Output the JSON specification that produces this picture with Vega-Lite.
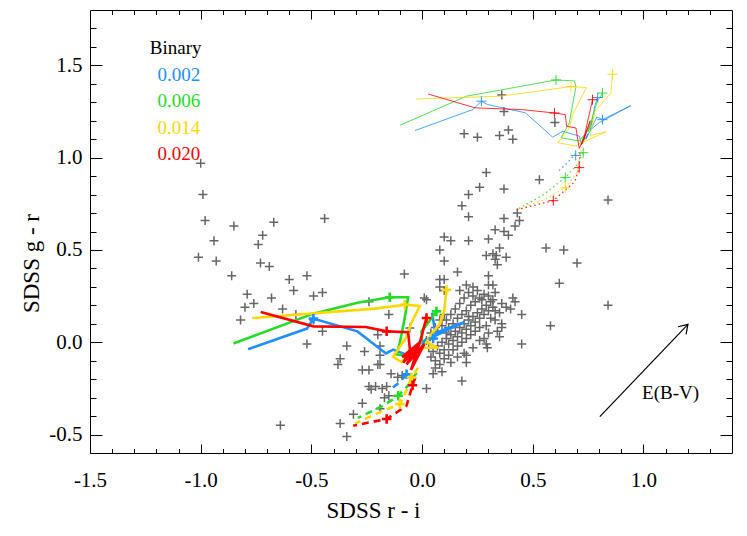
{
"$schema":"https://vega.github.io/schema/vega-lite/v6.json",
"width":642,"height":443,
"autosize":{"type":"none"},
"padding":{"left":90,"top":10,"right":15,"bottom":83},
"background":"#ffffff",
"config":{"view":{"stroke":"#000000","strokeWidth":1},"font":"Liberation Serif"},
"datasets":{
"grey":[
{"x":-1.00,"y":0.97},{"x":-0.99,"y":0.80},{"x":-0.98,"y":0.66},{"x":-0.94,"y":0.55},{"x":-1.01,"y":0.46},{"x":-0.93,"y":0.44},{"x":-0.85,"y":0.63},{"x":-0.72,"y":0.58},{"x":-0.74,"y":0.53},{"x":-0.67,"y":0.65},{"x":-0.73,"y":0.43},{"x":-0.69,"y":0.41},{"x":-0.44,"y":0.67},{"x":-0.86,"y":0.36},{"x":-0.60,"y":0.34},{"x":-0.52,"y":0.36},{"x":-0.79,"y":0.26},{"x":-0.58,"y":0.28},{"x":-0.49,"y":0.25},{"x":-0.45,"y":0.27},{"x":-0.68,"y":0.24},{"x":-0.80,"y":0.19},{"x":-0.76,"y":0.21},{"x":-0.63,"y":0.18},{"x":-0.82,"y":0.12},{"x":-0.57,"y":0.15},{"x":-0.49,"y":0.12},{"x":-0.45,"y":0.06},{"x":-0.24,"y":0.22},{"x":-0.20,"y":0.04},{"x":-0.15,"y":0.15},{"x":-0.08,"y":0.37},{"x":0.01,"y":0.24},{"x":-0.055,"y":0.077},{"x":-0.19,"y":-0.02},{"x":-0.19,"y":-0.12},
{"x":-0.52,"y":-0.01},{"x":-0.34,"y":-0.02},{"x":-0.26,"y":-0.05},{"x":-0.37,"y":-0.09},{"x":-0.38,"y":-0.12},{"x":-0.19,"y":-0.07},{"x":-0.27,"y":-0.15},{"x":-0.24,"y":-0.15},{"x":-0.20,"y":-0.12},{"x":-0.14,"y":-0.17},{"x":-0.11,"y":-0.19},{"x":-0.09,"y":-0.18},{"x":-0.24,"y":-0.24},{"x":-0.21,"y":-0.24},{"x":-0.23,"y":-0.255},{"x":-0.18,"y":-0.25},{"x":-0.16,"y":-0.24},{"x":-0.17,"y":-0.30},{"x":-0.15,"y":-0.29},{"x":-0.27,"y":-0.33},{"x":-0.31,"y":-0.39},{"x":-0.37,"y":-0.44},{"x":-0.34,"y":-0.51},{"x":-0.64,"y":-0.45},{"x":-0.19,"y":-0.36},
{"x":0.02,"y":-0.25},{"x":0.05,"y":-0.17},{"x":0.18,"y":-0.21},{"x":0.16,"y":-0.08},{"x":0.20,"y":-0.07},{"x":0.29,"y":-0.01},{"x":0.295,"y":-0.03},{"x":0.28,"y":0.02},{"x":0.35,"y":0.03},{"x":0.45,"y":-0.01},{"x":0.45,"y":0.15},{"x":0.40,"y":0.18},{"x":0.42,"y":0.22},{"x":0.41,"y":0.24},{"x":0.36,"y":0.10},{"x":0.36,"y":0.08},{"x":0.33,"y":0.17},{"x":0.32,"y":0.23},{"x":0.30,"y":0.25},{"x":0.30,"y":0.31},{"x":0.32,"y":0.31},{"x":0.33,"y":0.27},{"x":0.30,"y":0.36},{"x":0.16,"y":0.38},{"x":0.20,"y":0.31},{"x":0.08,"y":0.34},{"x":0.10,"y":0.34},{"x":0.08,"y":0.30},{"x":0.10,"y":0.28},{"x":0.08,"y":0.50},{"x":0.10,"y":0.57},{"x":0.13,"y":0.55},{"x":0.10,"y":0.44},{"x":0.21,"y":0.55},{"x":0.30,"y":0.56},{"x":0.33,"y":0.61},{"x":0.37,"y":0.60},{"x":0.39,"y":0.58},{"x":0.35,"y":0.51},{"x":0.32,"y":0.48},{"x":0.29,"y":0.47},{"x":0.335,"y":0.47},{"x":0.33,"y":0.45},{"x":0.38,"y":0.46},{"x":0.34,"y":0.42},{"x":0.37,"y":0.67},{"x":0.42,"y":0.63},{"x":0.44,"y":0.66},{"x":0.43,"y":0.70},{"x":0.18,"y":0.74},{"x":0.21,"y":0.68},{"x":0.21,"y":0.80},{"x":0.26,"y":0.84},{"x":0.37,"y":0.83},{"x":0.29,"y":0.92},{"x":0.53,"y":0.88},{"x":0.56,"y":0.51},{"x":0.64,"y":0.50},{"x":0.70,"y":0.43},{"x":0.62,"y":0.32},{"x":0.58,"y":0.09},{"x":0.84,"y":0.77},{"x":0.84,"y":0.20},{"x":0.19,"y":1.13},{"x":0.25,"y":1.11},{"x":0.35,"y":1.12},{"x":0.39,"y":1.15},{"x":0.41,"y":1.10},{"x":0.60,"y":1.19},{"x":0.36,"y":1.34},{"x":0.37,"y":1.25},{"x":0.02,"y":0.23},
{"x":0.04,"y":-0.08},{"x":0.05,"y":-0.05},{"x":0.06,"y":-0.10},{"x":0.07,"y":-0.02},{"x":0.08,"y":-0.06},{"x":0.09,"y":0.00},{"x":0.10,"y":-0.04},{"x":0.11,"y":0.02},{"x":0.12,"y":-0.01},{"x":0.13,"y":0.04},{"x":0.14,"y":0.01},{"x":0.15,"y":0.06},{"x":0.16,"y":0.03},{"x":0.17,"y":0.08},{"x":0.18,"y":0.05},{"x":0.19,"y":0.10},{"x":0.20,"y":0.07},{"x":0.21,"y":0.12},{"x":0.22,"y":0.09},{"x":0.23,"y":0.14},{"x":0.24,"y":0.11},{"x":0.25,"y":0.16},{"x":0.26,"y":0.13},{"x":0.27,"y":0.18},{"x":0.28,"y":0.15},{"x":0.29,"y":0.20},{"x":0.30,"y":0.17},{"x":0.31,"y":0.22},{"x":0.32,"y":0.19},
{"x":0.05,"y":0.02},{"x":0.07,"y":0.06},{"x":0.09,"y":0.09},{"x":0.11,"y":0.12},{"x":0.13,"y":0.15},{"x":0.15,"y":0.18},{"x":0.17,"y":0.21},{"x":0.19,"y":0.24},{"x":0.21,"y":0.27},{"x":0.23,"y":0.30},{"x":0.06,"y":-0.14},{"x":0.08,"y":-0.12},{"x":0.10,"y":-0.09},{"x":0.12,"y":-0.07},{"x":0.14,"y":-0.04},{"x":0.16,"y":-0.02},{"x":0.18,"y":0.00},{"x":0.20,"y":0.02},{"x":0.22,"y":0.04},{"x":0.24,"y":0.06},{"x":0.26,"y":0.08},
{"x":0.12,"y":0.08},{"x":0.14,"y":0.10},{"x":0.16,"y":0.13},{"x":0.18,"y":0.15},{"x":0.20,"y":0.17},{"x":0.22,"y":0.20},{"x":0.24,"y":0.22},{"x":0.26,"y":0.24},{"x":0.28,"y":0.26},{"x":0.17,"y":0.28},{"x":0.25,"y":0.28},{"x":0.27,"y":0.23},{"x":0.29,"y":0.09},{"x":0.33,"y":0.12},{"x":0.35,"y":0.16},{"x":0.36,"y":0.21},{"x":0.38,"y":0.19},{"x":0.10,"y":0.15},{"x":0.08,"y":0.12},{"x":0.06,"y":0.08},{"x":0.03,"y":-0.03},{"x":0.02,"y":0.01},{"x":0.13,"y":-0.11},{"x":0.09,"y":-0.16},{"x":0.19,"y":-0.06},{"x":0.20,"y":-0.11},{"x":0.23,"y":-0.03},{"x":0.26,"y":0.01},{"x":0.30,"y":0.05},{"x":0.31,"y":0.13},{"x":0.34,"y":0.06},{"x":0.04,"y":0.05},{"x":0.11,"y":0.05},{"x":0.21,"y":0.14},{"x":0.23,"y":0.25}
],
"tracks":[
{"model":"0.002","style":"thick","x":-0.786,"y":-0.038},{"model":"0.002","style":"thick","x":-0.52,"y":0.074},{"model":"0.002","style":"thick","x":-0.491,"y":0.128},{"model":"0.002","style":"thick","x":-0.47,"y":0.12},{"model":"0.002","style":"thick","x":-0.292,"y":0.059},{"model":"0.002","style":"thick","x":-0.163,"y":-0.061},{"model":"0.002","style":"thick","x":-0.131,"y":-0.04},{"model":"0.002","style":"thick","x":-0.065,"y":-0.07},{"model":"0.002","style":"thick","x":-0.04,"y":-0.03},{"model":"0.002","style":"thick","x":-0.06,"y":-0.09},{"model":"0.002","style":"thick","x":-0.01,"y":-0.04},{"model":"0.002","style":"thick","x":0.02,"y":0.02},{"model":"0.002","style":"thick","x":0.0,"y":-0.01},{"model":"0.002","style":"thick","x":0.05,"y":0.03},{"model":"0.002","style":"thick","x":0.192,"y":0.11},{"model":"0.002","style":"thick","x":0.06,"y":0.05},{"model":"0.002","style":"thick","x":0.045,"y":0.16},
{"model":"0.002","style":"dashed","x":-0.07,"y":-0.174},{"model":"0.002","style":"dashed","x":-0.1,"y":-0.215},{"model":"0.002","style":"dashed","x":-0.138,"y":-0.251},
{"model":"0.002","style":"thin","x":-0.032,"y":1.147},{"model":"0.002","style":"thin","x":0.23,"y":1.261},{"model":"0.002","style":"thin","x":0.268,"y":1.306},{"model":"0.002","style":"thin","x":0.296,"y":1.288},{"model":"0.002","style":"thin","x":0.467,"y":1.243},{"model":"0.002","style":"thin","x":0.59,"y":1.111},{"model":"0.002","style":"thin","x":0.635,"y":1.143},{"model":"0.002","style":"thin","x":0.71,"y":1.117},{"model":"0.002","style":"thin","x":0.72,"y":1.07},{"model":"0.002","style":"thin","x":0.75,"y":1.13},{"model":"0.002","style":"thin","x":0.74,"y":1.1},{"model":"0.002","style":"thin","x":0.79,"y":1.22},{"model":"0.002","style":"thin","x":0.815,"y":1.206},{"model":"0.002","style":"thin","x":0.943,"y":1.282},{"model":"0.002","style":"thin","x":0.8,"y":1.19},{"model":"0.002","style":"thin","x":0.76,"y":1.15},{"model":"0.002","style":"thin","x":0.78,"y":1.28},{"model":"0.002","style":"thin","x":0.793,"y":1.326},
{"model":"0.002","style":"dotted","x":0.694,"y":1.023},{"model":"0.002","style":"dotted","x":0.657,"y":0.973},{"model":"0.002","style":"dotted","x":0.617,"y":0.928},
{"model":"0.006","style":"thick","x":-0.852,"y":-0.007},{"model":"0.006","style":"thick","x":-0.491,"y":0.155},{"model":"0.006","style":"thick","x":-0.292,"y":0.214},{"model":"0.006","style":"thick","x":-0.146,"y":0.244},{"model":"0.006","style":"thick","x":-0.063,"y":0.244},{"model":"0.006","style":"thick","x":-0.08,"y":0.12},{"model":"0.006","style":"thick","x":-0.1,"y":0.0},{"model":"0.006","style":"thick","x":-0.115,"y":-0.066},{"model":"0.006","style":"thick","x":-0.055,"y":-0.075},{"model":"0.006","style":"thick","x":-0.02,"y":-0.03},{"model":"0.006","style":"thick","x":0.0,"y":0.02},{"model":"0.006","style":"thick","x":-0.003,"y":0.059},{"model":"0.006","style":"thick","x":0.03,"y":0.11},{"model":"0.006","style":"thick","x":0.065,"y":0.167},
{"model":"0.006","style":"dashed","x":-0.025,"y":-0.165},{"model":"0.006","style":"dashed","x":-0.06,"y":-0.23},{"model":"0.006","style":"dashed","x":-0.108,"y":-0.29},{"model":"0.006","style":"dashed","x":-0.176,"y":-0.344},{"model":"0.006","style":"dashed","x":-0.29,"y":-0.41},
{"model":"0.006","style":"thin","x":-0.099,"y":1.176},{"model":"0.006","style":"thin","x":0.201,"y":1.333},{"model":"0.006","style":"thin","x":0.605,"y":1.421},{"model":"0.006","style":"thin","x":0.688,"y":1.416},{"model":"0.006","style":"thin","x":0.695,"y":1.385},{"model":"0.006","style":"thin","x":0.665,"y":1.188},{"model":"0.006","style":"thin","x":0.628,"y":1.108},{"model":"0.006","style":"thin","x":0.71,"y":1.09},{"model":"0.006","style":"thin","x":0.73,"y":1.12},{"model":"0.006","style":"thin","x":0.72,"y":1.08},{"model":"0.006","style":"thin","x":0.77,"y":1.2},{"model":"0.006","style":"thin","x":0.75,"y":1.14},{"model":"0.006","style":"thin","x":0.79,"y":1.3},{"model":"0.006","style":"thin","x":0.815,"y":1.35},
{"model":"0.006","style":"dotted","x":0.728,"y":1.027},{"model":"0.006","style":"dotted","x":0.70,"y":0.96},{"model":"0.006","style":"dotted","x":0.647,"y":0.893},{"model":"0.006","style":"dotted","x":0.55,"y":0.80},{"model":"0.006","style":"dotted","x":0.425,"y":0.717},
{"model":"0.014","style":"thick","x":-0.767,"y":0.131},{"model":"0.014","style":"thick","x":-0.216,"y":0.182},{"model":"0.014","style":"thick","x":-0.078,"y":0.203},{"model":"0.014","style":"thick","x":-0.01,"y":0.197},{"model":"0.014","style":"thick","x":-0.05,"y":0.1},{"model":"0.014","style":"thick","x":-0.07,"y":0.03},{"model":"0.014","style":"thick","x":-0.131,"y":-0.079},{"model":"0.014","style":"thick","x":-0.093,"y":-0.107},{"model":"0.014","style":"thick","x":-0.05,"y":-0.06},{"model":"0.014","style":"thick","x":0.0,"y":-0.03},{"model":"0.014","style":"thick","x":0.07,"y":-0.03},{"model":"0.014","style":"thick","x":0.02,"y":0.0},{"model":"0.014","style":"thick","x":0.04,"y":0.04},{"model":"0.014","style":"thick","x":0.08,"y":0.1},{"model":"0.014","style":"thick","x":0.1,"y":0.17},{"model":"0.014","style":"thick","x":0.11,"y":0.283},
{"model":"0.014","style":"dashed","x":-0.018,"y":-0.138},{"model":"0.014","style":"dashed","x":-0.048,"y":-0.191},{"model":"0.014","style":"dashed","x":-0.07,"y":-0.26},{"model":"0.014","style":"dashed","x":-0.1,"y":-0.335},{"model":"0.014","style":"dashed","x":-0.176,"y":-0.371},{"model":"0.014","style":"dashed","x":-0.303,"y":-0.44},
{"model":"0.014","style":"thin","x":-0.027,"y":1.318},{"model":"0.014","style":"thin","x":0.353,"y":1.333},{"model":"0.014","style":"thin","x":0.673,"y":1.385},{"model":"0.014","style":"thin","x":0.743,"y":1.38},{"model":"0.014","style":"thin","x":0.68,"y":1.233},{"model":"0.014","style":"thin","x":0.665,"y":1.161},{"model":"0.014","style":"thin","x":0.613,"y":1.081},{"model":"0.014","style":"thin","x":0.695,"y":1.063},{"model":"0.014","style":"thin","x":0.74,"y":1.1},{"model":"0.014","style":"thin","x":0.72,"y":1.08},{"model":"0.014","style":"thin","x":0.831,"y":1.14},{"model":"0.014","style":"thin","x":0.76,"y":1.12},{"model":"0.014","style":"thin","x":0.78,"y":1.25},{"model":"0.014","style":"thin","x":0.853,"y":1.35},{"model":"0.014","style":"thin","x":0.86,"y":1.452},
{"model":"0.014","style":"dotted","x":0.72,"y":1.04},{"model":"0.014","style":"dotted","x":0.70,"y":0.92},{"model":"0.014","style":"dotted","x":0.647,"y":0.837},{"model":"0.014","style":"dotted","x":0.55,"y":0.77},{"model":"0.014","style":"dotted","x":0.425,"y":0.717},
{"model":"0.020","style":"thick","x":-0.729,"y":0.164},{"model":"0.020","style":"thick","x":-0.491,"y":0.086},{"model":"0.020","style":"thick","x":-0.254,"y":0.083},{"model":"0.020","style":"thick","x":-0.16,"y":0.059},{"model":"0.020","style":"thick","x":-0.063,"y":0.054},{"model":"0.020","style":"thick","x":-0.055,"y":-0.039},{"model":"0.020","style":"thick","x":-0.085,"y":-0.111},{"model":"0.020","style":"thick","x":-0.03,"y":-0.04},{"model":"0.020","style":"thick","x":-0.09,"y":-0.08},{"model":"0.020","style":"thick","x":-0.01,"y":0.0},{"model":"0.020","style":"thick","x":-0.07,"y":-0.12},{"model":"0.020","style":"thick","x":0.01,"y":-0.01},{"model":"0.020","style":"thick","x":-0.05,"y":-0.15},{"model":"0.020","style":"thick","x":0.0,"y":0.04},{"model":"0.020","style":"thick","x":0.01,"y":0.09},{"model":"0.020","style":"thick","x":0.02,"y":0.131},
{"model":"0.020","style":"dashed","x":-0.03,"y":-0.19},{"model":"0.020","style":"dashed","x":-0.043,"y":-0.233},{"model":"0.020","style":"dashed","x":-0.07,"y":-0.344},{"model":"0.020","style":"dashed","x":-0.16,"y":-0.416},{"model":"0.020","style":"dashed","x":-0.311,"y":-0.452},
{"model":"0.020","style":"thin","x":0.027,"y":1.345},{"model":"0.020","style":"thin","x":0.239,"y":1.27},{"model":"0.020","style":"thin","x":0.455,"y":1.26},{"model":"0.020","style":"thin","x":0.598,"y":1.242},{"model":"0.020","style":"thin","x":0.647,"y":1.233},{"model":"0.020","style":"thin","x":0.653,"y":1.17},{"model":"0.020","style":"thin","x":0.695,"y":1.161},{"model":"0.020","style":"thin","x":0.71,"y":1.05},{"model":"0.020","style":"thin","x":0.74,"y":1.13},{"model":"0.020","style":"thin","x":0.72,"y":1.07},{"model":"0.020","style":"thin","x":0.76,"y":1.2},{"model":"0.020","style":"thin","x":0.73,"y":1.1},{"model":"0.020","style":"thin","x":0.77,"y":1.314},
{"model":"0.020","style":"dotted","x":0.713,"y":1.027},{"model":"0.020","style":"dotted","x":0.71,"y":0.946},{"model":"0.020","style":"dotted","x":0.69,"y":0.87},{"model":"0.020","style":"dotted","x":0.593,"y":0.767},{"model":"0.020","style":"dotted","x":0.425,"y":0.717}
],
"markers":[
{"model":"0.002","style":"thick","x":-0.491,"y":0.128},{"model":"0.002","style":"thick","x":0.05,"y":0.02},{"model":"0.002","style":"thick","x":-0.07,"y":-0.174},
{"model":"0.006","style":"thick","x":-0.146,"y":0.244},{"model":"0.006","style":"thick","x":0.065,"y":0.167},{"model":"0.006","style":"thick","x":-0.108,"y":-0.29},
{"model":"0.014","style":"thick","x":-0.078,"y":0.203},{"model":"0.014","style":"thick","x":0.11,"y":0.283},{"model":"0.014","style":"thick","x":-0.048,"y":-0.191},{"model":"0.014","style":"thick","x":-0.1,"y":-0.335},
{"model":"0.020","style":"thick","x":-0.16,"y":0.059},{"model":"0.020","style":"thick","x":0.02,"y":0.131},{"model":"0.020","style":"thick","x":-0.043,"y":-0.233},{"model":"0.020","style":"thick","x":-0.16,"y":-0.416},
{"model":"0.002","style":"thin","x":0.268,"y":1.306},{"model":"0.002","style":"thin","x":0.815,"y":1.206},{"model":"0.002","style":"thin","x":0.793,"y":1.326},{"model":"0.002","style":"thin","x":0.694,"y":1.012},
{"model":"0.006","style":"thin","x":0.605,"y":1.421},{"model":"0.006","style":"thin","x":0.815,"y":1.35},{"model":"0.006","style":"thin","x":0.647,"y":0.893},{"model":"0.006","style":"thin","x":0.728,"y":1.027},
{"model":"0.014","style":"thin","x":0.673,"y":1.385},{"model":"0.014","style":"thin","x":0.86,"y":1.452},{"model":"0.014","style":"thin","x":0.647,"y":0.837},
{"model":"0.020","style":"thin","x":0.598,"y":1.242},{"model":"0.020","style":"thin","x":0.77,"y":1.314},{"model":"0.020","style":"thin","x":0.71,"y":0.946},{"model":"0.020","style":"thin","x":0.593,"y":0.767}
],
"legendText":[
{"model":"Binary","label":"Binary","x":-1.23,"y":1.559},
{"model":"0.002","label":"0.002","x":-1.195,"y":1.416},
{"model":"0.006","label":"0.006","x":-1.195,"y":1.273},
{"model":"0.014","label":"0.014","x":-1.195,"y":1.129},
{"model":"0.020","label":"0.020","x":-1.195,"y":0.986}
],
"arrow":[{"x":0.803,"y":-0.403,"x2":1.201,"y2":0.097}],
"note":[{"x":0.994,"y":-0.308,"label":"E(B-V)"}]
},
"encoding":{
"x":{"field":"x","type":"quantitative","scale":{"domain":[-1.5,1.4],"nice":false,"zero":false},"axis":null},
"y":{"field":"y","type":"quantitative","scale":{"domain":[-0.6,1.8],"nice":false,"zero":false},"axis":null}
},
"layer":[
{"data":{"name":"grey"},
 "mark":{"type":"point","shape":"M-1,0L1,0M0,-1L0,1","filled":false,"size":81,"strokeWidth":1.5,"color":"#666666","opacity":1},
 "encoding":{
  "x":{"field":"x","type":"quantitative","scale":{"domain":[-1.5,1.4],"nice":false,"zero":false},
   "axis":{"orient":"bottom","values":[-1.5,-1.4,-1.3,-1.2,-1.1,-1.0,-0.9,-0.8,-0.7,-0.6,-0.5,-0.4,-0.3,-0.2,-0.1,0,0.1,0.2,0.3,0.4,0.5,0.6,0.7,0.8,0.9,1.0,1.1,1.2,1.3],
    "domain":false,"grid":false,"ticks":true,"tickColor":"#000000","tickWidth":1,
    "tickSize":{"condition":{"test":"abs(datum.value*2-round(datum.value*2))<0.01","value":-9},"value":-4.5},
    "labelExpr":"abs(datum.value*2-round(datum.value*2))<0.01 ? replace(format(datum.value,'.1f'),'\u2212','-') : ''",
    "labelFont":"Liberation Serif","labelFontSize":21,"labelColor":"#000000","labelBaseline":"alphabetic","labelPadding":42,"labelFlush":false,"labelOverlap":false,
    "title":"SDSS r - i","titleFont":"Liberation Serif","titleFontSize":23,"titleFontWeight":"normal","titleColor":"#000000","titleX":283,"titleY":64,"titleBaseline":"alphabetic","titleAlign":"center"}},
  "y":{"field":"y","type":"quantitative","scale":{"domain":[-0.6,1.8],"nice":false,"zero":false},
   "axis":{"orient":"left","values":[-0.5,-0.4,-0.3,-0.2,-0.1,0,0.1,0.2,0.3,0.4,0.5,0.6,0.7,0.8,0.9,1.0,1.1,1.2,1.3,1.4,1.5,1.6,1.7],
    "domain":false,"grid":false,"ticks":true,"tickColor":"#000000","tickWidth":1,
    "tickSize":{"condition":{"test":"abs(datum.value*2-round(datum.value*2))<0.01","value":-12},"value":-6},
    "labelExpr":"abs(datum.value*2-round(datum.value*2))<0.01 ? replace(format(datum.value,'.1f'),'\u2212','-') : ''",
    "labelFont":"Liberation Serif","labelFontSize":21,"labelColor":"#000000","labelBaseline":"middle","labelAlign":"right","labelPadding":20,"labelFlush":false,"labelOverlap":false,
    "title":"SDSS g - r","titleFont":"Liberation Serif","titleFontSize":23,"titleFontWeight":"normal","titleColor":"#000000","titleX":-52,"titleY":253,"titleAngle":270,"titleBaseline":"alphabetic","titleAlign":"center"}}
 }},
{"data":{"name":"arrow"},
 "mark":{"type":"rule","color":"#000000","strokeWidth":1.2},
 "encoding":{
  "x":{"field":"x","type":"quantitative","scale":{"domain":[-1.5,1.4],"nice":false,"zero":false},
   "axis":{"orient":"top","values":[-1.4,-1.3,-1.2,-1.1,-1.0,-0.9,-0.8,-0.7,-0.6,-0.5,-0.4,-0.3,-0.2,-0.1,0,0.1,0.2,0.3,0.4,0.5,0.6,0.7,0.8,0.9,1.0,1.1,1.2,1.3],
    "domain":false,"grid":false,"labels":false,"title":null,"ticks":true,"tickColor":"#000000","tickWidth":1,
    "tickSize":{"condition":{"test":"abs(datum.value*2-round(datum.value*2))<0.01","value":-9},"value":-4.5}}},
  "y":{"field":"y","type":"quantitative","scale":{"domain":[-0.6,1.8],"nice":false,"zero":false},
   "axis":{"orient":"right","values":[-0.5,-0.4,-0.3,-0.2,-0.1,0,0.1,0.2,0.3,0.4,0.5,0.6,0.7,0.8,0.9,1.0,1.1,1.2,1.3,1.4,1.5,1.6,1.7],
    "domain":false,"grid":false,"labels":false,"title":null,"ticks":true,"tickColor":"#000000","tickWidth":1,
    "tickSize":{"condition":{"test":"abs(datum.value*2-round(datum.value*2))<0.01","value":-12},"value":-6}}},
  "x2":{"field":"x2"},"y2":{"field":"y2"}
 }},
{"data":{"name":"tracks"},"transform":[{"filter":"datum.style==='dotted'"}],
 "mark":{"type":"line","strokeWidth":1.3,"strokeDash":[1.5,3],"opacity":0.85},
 "encoding":{"color":{"field":"model","type":"nominal","scale":{"domain":["Binary","0.002","0.006","0.014","0.020"],"range":["#000000","#1E90FF","#22DD22","#FFD700","#FF0000"]},"legend":null},"order":{"value":null}}},
{"data":{"name":"tracks"},"transform":[{"filter":"datum.style==='thin'"}],
 "mark":{"type":"line","strokeWidth":1,"opacity":0.8},
 "encoding":{"color":{"field":"model","type":"nominal","scale":{"domain":["Binary","0.002","0.006","0.014","0.020"],"range":["#000000","#1E90FF","#22DD22","#FFD700","#FF0000"]},"legend":null},"order":{"value":null}}},
{"data":{"name":"tracks"},"transform":[{"filter":"datum.style==='dashed'"}],
 "mark":{"type":"line","strokeWidth":2.6,"strokeDash":[7,5]},
 "encoding":{"color":{"field":"model","type":"nominal","scale":{"domain":["Binary","0.002","0.006","0.014","0.020"],"range":["#000000","#1E90FF","#22DD22","#FFD700","#FF0000"]},"legend":null},"order":{"value":null}}},
{"data":{"name":"tracks"},"transform":[{"filter":"datum.style==='thick'"}],
 "mark":{"type":"line","strokeWidth":2.6},
 "encoding":{"color":{"field":"model","type":"nominal","scale":{"domain":["Binary","0.002","0.006","0.014","0.020"],"range":["#000000","#1E90FF","#22DD22","#FFD700","#FF0000"]},"legend":null},"order":{"value":null}}},
{"data":{"name":"markers"},"transform":[{"filter":"datum.style==='thin'"}],
 "mark":{"type":"point","shape":"M-1,0L1,0M0,-1L0,1","filled":false,"size":100,"strokeWidth":1,"opacity":0.9},
 "encoding":{"color":{"field":"model","type":"nominal","scale":{"domain":["Binary","0.002","0.006","0.014","0.020"],"range":["#000000","#1E90FF","#22DD22","#FFD700","#FF0000"]},"legend":null}}},
{"data":{"name":"markers"},"transform":[{"filter":"datum.style==='thick'"}],
 "mark":{"type":"point","shape":"M-1,0L1,0M0,-1L0,1","filled":false,"size":90,"strokeWidth":2.6,"opacity":1},
 "encoding":{"color":{"field":"model","type":"nominal","scale":{"domain":["Binary","0.002","0.006","0.014","0.020"],"range":["#000000","#1E90FF","#22DD22","#FFD700","#FF0000"]},"legend":null}}},
{"data":{"name":"legendText"},
 "mark":{"type":"text","align":"left","baseline":"alphabetic","font":"Liberation Serif","fontSize":19},
 "encoding":{"text":{"field":"label"},"color":{"field":"model","type":"nominal","scale":{"domain":["Binary","0.002","0.006","0.014","0.020"],"range":["#000000","#1E90FF","#22DD22","#FFD700","#FF0000"]},"legend":null}}},
{"data":{"name":"note"},
 "mark":{"type":"text","align":"left","baseline":"alphabetic","font":"Liberation Serif","fontSize":19,"color":"#000000"},
 "encoding":{"text":{"field":"label"}}},
{"data":{"name":"arrow"},
 "mark":{"type":"point","shape":"M-0.55,0.85L0,0L0.55,0.85","filled":false,"size":400,"strokeWidth":1.2,"color":"#000000","angle":43.5,"opacity":1},
 "encoding":{"x":{"field":"x2","type":"quantitative","scale":{"domain":[-1.5,1.4],"nice":false,"zero":false},"axis":null},"y":{"field":"y2","type":"quantitative","scale":{"domain":[-0.6,1.8],"nice":false,"zero":false},"axis":null}}}
],
"resolve":{"axis":{"x":"independent","y":"independent"}}
}
